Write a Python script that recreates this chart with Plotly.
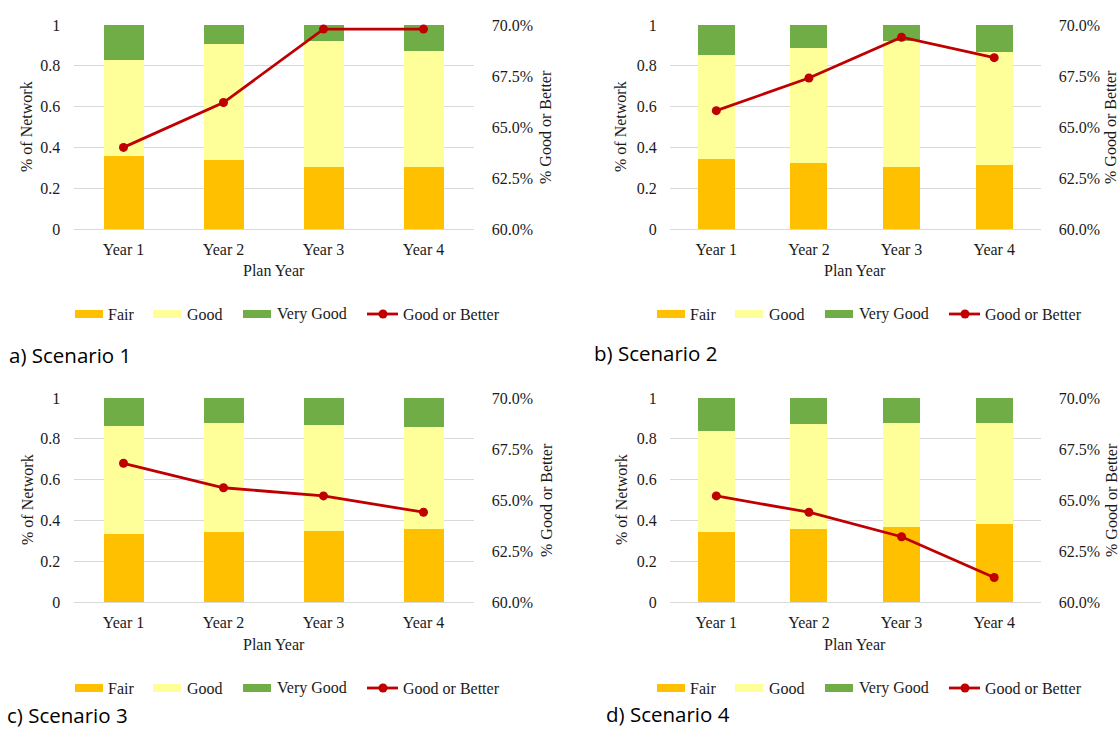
import plotly.graph_objects as go

years = ["Year 1", "Year 2", "Year 3", "Year 4"]
scenarios = ["a) Scenario 1", "b) Scenario 2", "c) Scenario 3", "d) Scenario 4"]
series_names = ["Fair", "Good", "Very Good", "Good or Better"]

# Share of network in each condition band (fractions), per scenario
fair = [
    [0.360, 0.338, 0.302, 0.302],
    [0.342, 0.326, 0.306, 0.316],
    [0.332, 0.344, 0.348, 0.357],
    [0.345, 0.357, 0.368, 0.384],
]
good = [
    [0.470, 0.569, 0.618, 0.571],
    [0.509, 0.563, 0.616, 0.553],
    [0.531, 0.533, 0.522, 0.502],
    [0.495, 0.516, 0.508, 0.493],
]
very_good = [
    [0.170, 0.093, 0.080, 0.127],
    [0.149, 0.111, 0.078, 0.131],
    [0.137, 0.123, 0.130, 0.141],
    [0.160, 0.127, 0.124, 0.123],
]
# Percent of network rated Good or Better
good_or_better = [
    [0.640, 0.662, 0.698, 0.698],
    [0.658, 0.674, 0.694, 0.684],
    [0.668, 0.656, 0.652, 0.644],
    [0.652, 0.644, 0.632, 0.612],
]

C_FAIR = "#FFC000"
C_GOOD = "#FFFF99"
C_VGOOD = "#70AD47"
C_LINE = "#C00000"
TXT = "#1A1A1A"
GRID = "#D9D9D9"
SERIF = "Liberation Serif, Times New Roman, serif"
SANS = "Open Sans, Noto Sans, sans-serif"
FS = 16

W, H = 1120, 731


def px(x):
    return x / W


def py(y):
    return 1 - y / H


# panel geometry in pixels: (left, right, top, bottom)
panels = [
    (73.5, 473.5, 25, 229),
    (670, 1040.5, 25, 229),
    (73.5, 473.5, 398, 602),
    (670, 1040.5, 398, 602),
]
left_title_x = [27, 621, 27, 621]
right_title_x = [546, 1111, 546, 1111]
legend_left = [75, 657, 75, 657]
legend_row_y = [314, 314, 688, 688]
caption_pos = [(8, 355), (593, 353), (6, 715), (605, 714)]

fig = go.Figure()
layout = dict(
    width=W, height=H,
    margin=dict(l=0, r=0, t=0, b=0, autoexpand=False),
    paper_bgcolor="white", plot_bgcolor="white",
    barmode="stack", bargap=0.6, showlegend=False,
    font=dict(family=SERIF, size=FS, color=TXT),
    annotations=[], shapes=[],
)
ann = layout["annotations"]
shp = layout["shapes"]

for i in range(4):
    xa = "x" if i == 0 else f"x{i+1}"
    yl = "y" if i == 0 else f"y{2*i+1}"
    yr = f"y{2*i+2}"
    l, r, t, b = panels[i]

    for name, vals, col in ((series_names[0], fair[i], C_FAIR),
                            (series_names[1], good[i], C_GOOD),
                            (series_names[2], very_good[i], C_VGOOD)):
        fig.add_trace(go.Bar(
            x=years, y=vals, name=name, marker=dict(color=col, line=dict(width=0)),
            xaxis=xa, yaxis=yl, hoverinfo="skip",
        ))
    fig.add_trace(go.Scatter(
        x=years, y=good_or_better[i], name=series_names[3], mode="lines+markers",
        line=dict(color=C_LINE, width=2.8), marker=dict(color=C_LINE, size=9),
        xaxis=xa, yaxis=yr, cliponaxis=False,
    ))

    xkey = "xaxis" if i == 0 else f"xaxis{i+1}"
    ylkey = "yaxis" if i == 0 else f"yaxis{2*i+1}"
    yrkey = f"yaxis{2*i+2}"
    tf = dict(family=SERIF, size=FS, color=TXT)
    layout[xkey] = dict(
        domain=[px(l), px(r)], anchor=yl, showgrid=False, showline=False,
        zeroline=False, automargin=False,
        ticks="outside", ticklen=6, tickcolor="rgba(0,0,0,0)", tickfont=tf,
    )
    layout[ylkey] = dict(
        domain=[py(b), py(t)], anchor=xa, range=[0, 1], dtick=0.2, tickformat="~g",
        showgrid=True, gridcolor=GRID, gridwidth=1, zeroline=True,
        zerolinecolor=GRID, zerolinewidth=1, showline=False, automargin=False,
        ticks="outside", ticklen=9, tickcolor="rgba(0,0,0,0)", tickfont=tf,
    )
    layout[yrkey] = dict(
        overlaying=yl, anchor=xa, side="right", range=[0.6, 0.7], dtick=0.025,
        tickformat=".1%", showgrid=False, zeroline=False, showline=False,
        automargin=False,
        ticks="outside", ticklen=14, tickcolor="rgba(0,0,0,0)", tickfont=tf,
    )

    # axis titles
    mid_y = (t + b) / 2
    ann.append(dict(text="% of Network", xref="paper", yref="paper",
                    x=px(left_title_x[i]), y=py(mid_y), textangle=-90,
                    xanchor="center", yanchor="middle", showarrow=False, font=tf))
    ann.append(dict(text="% Good or Better", xref="paper", yref="paper",
                    x=px(right_title_x[i]), y=py(mid_y), textangle=-90,
                    xanchor="center", yanchor="middle", showarrow=False, font=tf))
    ann.append(dict(text="Plan Year", xref="paper", yref="paper",
                    x=px((l + r) / 2), y=py(b + 42), xanchor="center",
                    yanchor="middle", showarrow=False, font=tf))

    # legend row
    L = legend_left[i]
    ry = legend_row_y[i]
    for off, col in ((0, C_FAIR), (78, C_GOOD), (168, C_VGOOD)):
        shp.append(dict(type="rect", xref="paper", yref="paper",
                        x0=px(L + off), x1=px(L + off + 28),
                        y0=py(ry + 4), y1=py(ry - 4),
                        fillcolor=col, line=dict(width=0)))
    shp.append(dict(type="line", xref="paper", yref="paper",
                    x0=px(L + 292), x1=px(L + 323), y0=py(ry), y1=py(ry),
                    line=dict(color=C_LINE, width=2.8)))
    shp.append(dict(type="circle", xref="paper", yref="paper",
                    x0=px(L + 303.5), x1=px(L + 312.5), y0=py(ry + 4.5), y1=py(ry - 4.5),
                    fillcolor=C_LINE, line=dict(width=0)))
    for off, name in zip((31, 110, 200, 326), series_names):
        ann.append(dict(text=name, xref="paper", yref="paper",
                        x=px(L + off), y=py(ry), xanchor="left", yanchor="middle",
                        showarrow=False, font=tf))

    cx, cy = caption_pos[i]
    ann.append(dict(
        text=scenarios[i], xref="paper", yref="paper", x=px(cx), y=py(cy),
        xanchor="left", yanchor="middle", showarrow=False, borderpad=0,
        font=dict(family=SANS, size=20.5, color="#000000"),
    ))

fig.update_layout(**layout)
fig.write_html("out.html")
